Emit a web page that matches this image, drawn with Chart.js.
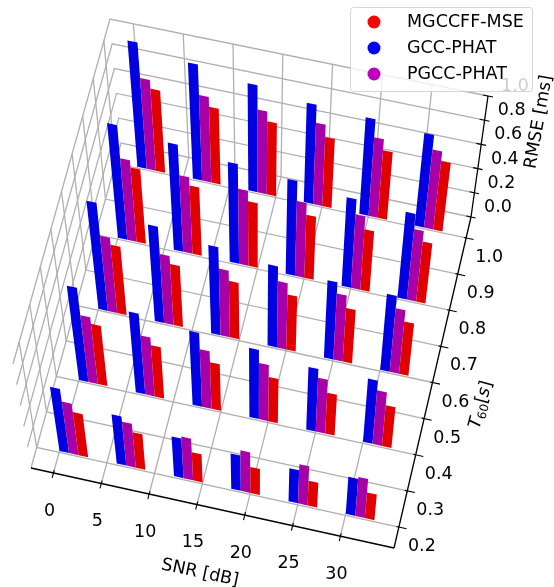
<!DOCTYPE html>
<html>
<head>
<meta charset="utf-8">
<title>RMSE per SNR and T60</title>
<script src="https://cdn.jsdelivr.net/npm/chart.js@4/dist/chart.umd.min.js"></script>
<style>
  html, body { margin: 0; padding: 0; background: #fff; }
  canvas { display: block; }
</style>
</head>
<body>
<canvas id="chart" width="554" height="587"></canvas>
<script>
// chart values, rows go T60 = 0.2 ... 1.0, columns follow barSnr
const barSnr = [0, 6, 12, 18, 24, 30];
const barT60 = [0.2, 0.4, 0.6, 0.8, 1.0];
const gccPhat = [
  [0.61, 0.47, 0.38, 0.34, 0.32, 0.36],
  [0.86, 0.74, 0.68, 0.64, 0.58, 0.59],
  [0.95, 0.85, 0.78, 0.72, 0.69, 0.68],
  [0.97, 0.91, 0.85, 0.81, 0.76, 0.74],
  [1.03, 0.95, 0.88, 0.82, 0.80, 0.77]
];
const pgccPhat = [
  [0.49, 0.42, 0.40, 0.39, 0.38, 0.38],
  [0.61, 0.54, 0.53, 0.52, 0.50, 0.50],
  [0.66, 0.61, 0.59, 0.59, 0.59, 0.57],
  [0.69, 0.65, 0.64, 0.64, 0.63, 0.61],
  [0.74, 0.70, 0.68, 0.67, 0.65, 0.65]
];
const mgccffMse = [
  [0.41, 0.34, 0.27, 0.25, 0.24, 0.25],
  [0.55, 0.47, 0.43, 0.41, 0.38, 0.38],
  [0.60, 0.54, 0.50, 0.49, 0.48, 0.47],
  [0.63, 0.58, 0.55, 0.54, 0.52, 0.52],
  [0.67, 0.62, 0.60, 0.57, 0.56, 0.57]
];
const snrTicks = [0, 5, 10, 15, 20, 25, 30];
const t60Ticks = [0.2, 0.3, 0.4, 0.5, 0.6, 0.7, 0.8, 0.9, 1.0];
const rmseTicks = [0.0, 0.2, 0.4, 0.6, 0.8, 1.0];
const legendNames = ['MGCCFF-MSE', 'GCC-PHAT', 'PGCC-PHAT'];
const legendColors = ['#ff0000', '#0000ff', '#bf00bf'];

const W = 554, H = 587;
const FONT = '"DejaVu Sans"';
const GRID = '#b0b0b0';

// axis limits of the 3d box
const snrMin = -2.35, snrMax = 35.6;
const t60Min = 0.142, t60Max = 1.058;
const rmseMin = 0, rmseMax = 1;
const barWidth = 1.0;
const barLift = 0.004; // bars stand a hair behind their grid line

// camera: where the 8 corners of the box land on the canvas
const box = {
  floorFL: [31, 468], floorFR: [394, 548], floorBL: [121, 143], floorBR: [471, 217],
  topFL: [13, 364], topFR: [405, 447], topBL: [110, 19], topBR: [488, 96]
};

function mix(a, b, f) {
  return [a[0] + (b[0] - a[0]) * f, a[1] + (b[1] - a[1]) * f];
}

function project(snr, t60, rmse) {
  const u = (snr - snrMin) / (snrMax - snrMin);
  const v = (t60 - t60Min) / (t60Max - t60Min);
  const w = (rmse - rmseMin) / (rmseMax - rmseMin);
  const floor = mix(mix(box.floorFL, box.floorFR, u), mix(box.floorBL, box.floorBR, u), v);
  const top = mix(mix(box.topFL, box.topFR, u), mix(box.topBL, box.topBR, u), v);
  const p = mix(floor, top, w);
  return { x: p[0], y: p[1] };
}

function lineSet(points, color, width) {
  return {
    type: 'line', data: points, borderColor: color, borderWidth: width,
    pointRadius: 0, tension: 0, fill: false, clip: false
  };
}

function barSet(snr, t60, value, color) {
  const points = [
    project(snr, t60 + barLift, 0),
    project(snr + barWidth, t60 + barLift, 0),
    project(snr + barWidth, t60 + barLift, value),
    project(snr, t60 + barLift, value)
  ];
  const ds = lineSet(points, color, 0);
  ds.faceColor = color;
  return ds;
}

// painter order, first thing in this list ends up at the back
const painted = [];

// grid on floor, back wall and left wall
snrTicks.forEach(function (s) {
  painted.push(lineSet([project(s, t60Min, 0), project(s, t60Max, 0), project(s, t60Max, rmseMax)], GRID, 1.3));
});
t60Ticks.forEach(function (t) {
  painted.push(lineSet([project(snrMax, t, 0), project(snrMin, t, 0), project(snrMin, t, rmseMax)], GRID, 1.3));
});
rmseTicks.forEach(function (r) {
  painted.push(lineSet([project(snrMin, t60Min, r), project(snrMin, t60Max, r), project(snrMax, t60Max, r)], GRID, 1.3));
});

// black axis lines
painted.push(lineSet([project(snrMin, t60Min, 0), project(snrMax, t60Min, 0)], '#000', 1.3));
painted.push(lineSet([project(snrMax, t60Min, 0), project(snrMax, t60Max, 0)], '#000', 1.3));
painted.push(lineSet([project(snrMax, t60Max, 0), project(snrMax, t60Max, rmseMax)], '#000', 1.3));

snrTicks.forEach(function (s) {
  painted.push(lineSet([project(s, t60Min + 0.008, 0), project(s, t60Min - 0.014, 0)], '#000', 1.1));
});
t60Ticks.forEach(function (t) {
  painted.push(lineSet([project(snrMax - 0.25, t, 0), project(snrMax + 0.8, t, 0)], '#000', 1.1));
});
rmseTicks.forEach(function (r) {
  painted.push(lineSet([project(snrMax - 0.5, t60Max, r), project(snrMax + 0.5, t60Max, r)], '#000', 1.1));
});

// bars, back row first
for (let row = barT60.length - 1; row >= 0; row--) {
  for (let col = 0; col < barSnr.length; col++) {
    const s = barSnr[col], t = barT60[row];
    painted.push(barSet(s, t, gccPhat[row][col], '#0000e1'));
    painted.push(barSet(s + barWidth, t, pgccPhat[row][col], '#a600a6'));
    painted.push(barSet(s + 2 * barWidth, t, mgccffMse[row][col], '#e10000'));
  }
}

function drawRotated(ctx, text, x, y, angle, font) {
  ctx.save();
  ctx.translate(x, y);
  ctx.rotate(angle * Math.PI / 180);
  ctx.font = font;
  ctx.textAlign = 'center';
  ctx.textBaseline = 'middle';
  ctx.fillText(text, 0, 0);
  ctx.restore();
}

// fills the closed outline of a bar face, points already went through the scales
const barFaces = {
  id: 'barFaces',
  beforeDatasetDraw(chart, args) {
    const ds = chart.data.datasets[args.index];
    if (!ds.faceColor) return;
    const pts = args.meta.data;
    const ctx = chart.ctx;
    ctx.save();
    ctx.beginPath();
    pts.forEach(function (p, i) {
      if (i === 0) ctx.moveTo(p.x, p.y); else ctx.lineTo(p.x, p.y);
    });
    ctx.closePath();
    ctx.fillStyle = ds.faceColor;
    ctx.fill();
    ctx.restore();
  }
};

// tick labels, axis titles and the legend box
const axisText = {
  id: 'axisText',
  afterDraw(chart) {
    const ctx = chart.ctx;
    const px = function (p) {
      return { x: chart.scales.x.getPixelForValue(p.x), y: chart.scales.y.getPixelForValue(p.y) };
    };
    const tickFont = '17.5px ' + FONT;
    ctx.fillStyle = '#000';

    snrTicks.forEach(function (s) {
      const p = px(project(s, t60Min, 0));
      drawRotated(ctx, String(s), p.x - 4, p.y + 38, 0, tickFont);
    });
    t60Ticks.forEach(function (t) {
      const p = px(project(snrMax, t, 0));
      drawRotated(ctx, t.toFixed(1), p.x + 23, p.y + 19.5, 0, tickFont);
    });
    rmseTicks.forEach(function (r) {
      const p = px(project(snrMax, t60Max, r));
      drawRotated(ctx, r.toFixed(1), p.x + 27, p.y - 9.5, 0, tickFont);
    });

    drawRotated(ctx, 'SNR [dB]', 200, 573, 12, tickFont);
    drawRotated(ctx, 'RMSE [ms]', 539, 122, -80, tickFont);

    // T60[s] label, pieces set one after the other along the rotated baseline
    ctx.save();
    ctx.translate(481, 404);
    ctx.rotate(-75 * Math.PI / 180);
    ctx.textBaseline = 'alphabetic';
    ctx.textAlign = 'left';
    let cx = -25;
    const piece = function (text, font, dy) {
      ctx.font = font;
      ctx.fillText(text, cx, 5 + dy);
      cx += ctx.measureText(text).width;
    };
    piece('T', 'italic 17.5px ' + FONT, 0);
    piece('60', '12px ' + FONT, 3);
    piece('[', '17.5px ' + FONT, 0);
    piece('s', 'italic 17.5px ' + FONT, 0);
    piece(']', '17.5px ' + FONT, 0);
    ctx.restore();

    // legend
    ctx.save();
    ctx.beginPath();
    ctx.roundRect(350.5, 7.5, 182, 84, 3);
    ctx.fillStyle = 'rgba(255,255,255,0.8)';
    ctx.fill();
    ctx.strokeStyle = 'rgba(204,204,204,0.8)';
    ctx.lineWidth = 1;
    ctx.stroke();
    ctx.font = tickFont;
    ctx.textAlign = 'left';
    ctx.textBaseline = 'middle';
    legendNames.forEach(function (name, i) {
      const y = 22 + i * 26;
      ctx.beginPath();
      ctx.arc(374, y, 6.5, 0, Math.PI * 2);
      ctx.fillStyle = legendColors[i];
      ctx.fill();
      ctx.fillStyle = '#000';
      ctx.fillText(name, 407, y);
    });
    ctx.restore();
  }
};

// chart.js paints the first dataset last
new Chart(document.getElementById('chart').getContext('2d'), {
  type: 'scatter',
  data: { datasets: painted.slice().reverse() },
  options: {
    responsive: false,
    animation: false,
    layout: { padding: 0 },
    plugins: { legend: { display: false }, tooltip: { enabled: false } },
    scales: {
      x: { type: 'linear', min: 0, max: W, display: false },
      y: { type: 'linear', min: 0, max: H, reverse: true, display: false }
    }
  },
  plugins: [barFaces, axisText]
});
</script>
</body>
</html>
